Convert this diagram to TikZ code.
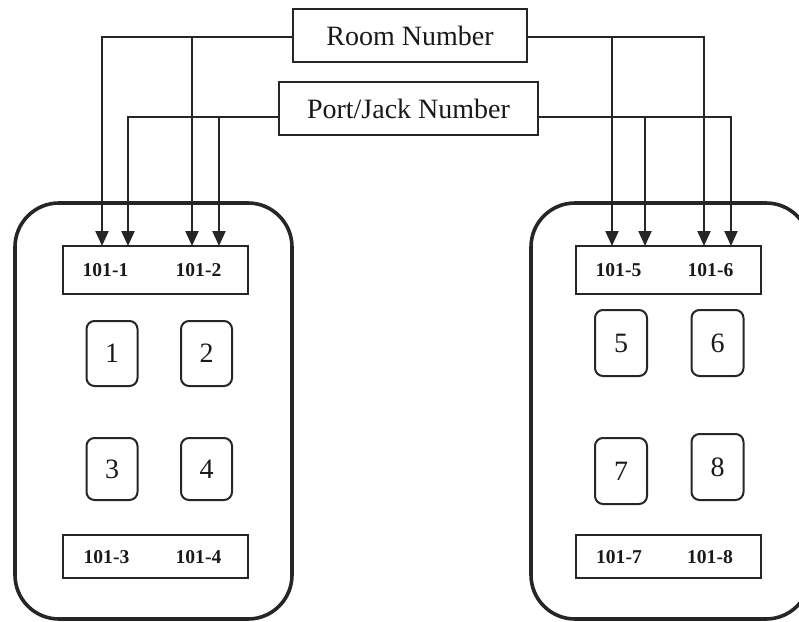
\documentclass[tikz,border=0pt]{standalone}
\usepackage{fontspec}
\setmainfont{Liberation Serif}
\usetikzlibrary{arrows.meta}
\begin{document}
\begin{tikzpicture}[x=0.5pt,y=-0.5pt,
  titlebox/.style={draw=black!85,line width=1.2pt,inner sep=0pt,text=black!90,font=\fontsize{14}{16}\selectfont},
  outerbox/.style={draw=black!85,line width=1.8pt,rounded corners=22pt},
  portbar/.style={draw=black!85,line width=1.2pt,inner sep=0pt,minimum width=92.5pt},
  jack/.style={draw=black!85,line width=1pt,rounded corners=4pt,inner sep=0pt,minimum width=25.5pt,text=black!90,font=\fontsize{14}{16}\selectfont},
  plabel/.style={inner sep=0pt,text=black!90,font=\fontsize{9.8}{11}\selectfont\bfseries},
  conn/.style={draw=black!85,line width=1.1pt,-{Triangle[width=6.5pt,length=7.5pt]}}
]
\useasboundingbox (0,0) rectangle (799,622);
\clip (0,0) rectangle (799,622);
% outer rooms
\draw[outerbox] (15,203) rectangle (292,619);
\draw[outerbox] (531,203) rectangle (810,619);
% title boxes
\node[titlebox,minimum width=117pt,minimum height=26.5pt] (RN) at (410,35.5) {Room Number};
\node[titlebox,minimum width=129.5pt,minimum height=26.5pt] (PJ) at (408.5,108.5) {Port/Jack Number};
% port bars
\node[portbar,minimum height=24pt] (hL) at (155.5,270) {};
\node[portbar,minimum height=24pt] (hR) at (668.5,270) {};
\node[portbar,minimum height=21.5pt] (bL) at (155.5,556.5) {};
\node[portbar,minimum height=21.5pt] (bR) at (668.5,556.5) {};
\node[plabel] (l1) at (105.5,270) {101-1};
\node[plabel] (l2) at (198.5,270) {101-2};
\node[plabel] (l5) at (618.5,270) {101-5};
\node[plabel] (l6) at (710.5,270) {101-6};
\node[plabel] (l3) at (106.5,557) {101-3};
\node[plabel] (l4) at (198.5,557) {101-4};
\node[plabel] (l7) at (619,557) {101-7};
\node[plabel] (l8) at (710,557) {101-8};
% jacks
\node[jack,minimum height=32.5pt] (j1) at (112,353.5) {1};
\node[jack,minimum height=32.5pt] (j2) at (206.5,353.5) {2};
\node[jack,minimum height=31pt] (j3) at (112,469) {3};
\node[jack,minimum height=31pt] (j4) at (206.5,469) {4};
\node[jack,minimum height=33pt,minimum width=26pt] (j5) at (621,343) {5};
\node[jack,minimum height=33pt,minimum width=26pt] (j6) at (717.5,343) {6};
\node[jack,minimum height=33pt,minimum width=26pt] (j7) at (621,471) {7};
\node[jack,minimum height=33pt,minimum width=26pt] (j8) at (717.5,467) {8};
% connector endpoints
\coordinate (a1) at (102,246);
\coordinate (a2) at (128,246);
\coordinate (a3) at (192,246);
\coordinate (a4) at (219,246);
\coordinate (a5) at (612,246);
\coordinate (a6) at (645,246);
\coordinate (a7) at (704,246);
\coordinate (a8) at (731,246);
\coordinate (rnl) at (293,37);
\coordinate (rnr) at (527,37);
\coordinate (pjl) at (279,117);
\coordinate (pjr) at (538,117);
\coordinate (rjl) at (192,37);
\coordinate (rjr) at (612,37);
\coordinate (pjjl) at (219,117);
\coordinate (pjjr) at (645,117);
% connectors
\draw[conn] (rnl) -| (a1);
\draw[conn] (rjl) -- (a3);
\draw[conn] (rnr) -| (a7);
\draw[conn] (rjr) -- (a5);
\draw[conn] (pjl) -| (a2);
\draw[conn] (pjjl) -- (a4);
\draw[conn] (pjr) -| (a8);
\draw[conn] (pjjr) -- (a6);
\end{tikzpicture}
\end{document}
